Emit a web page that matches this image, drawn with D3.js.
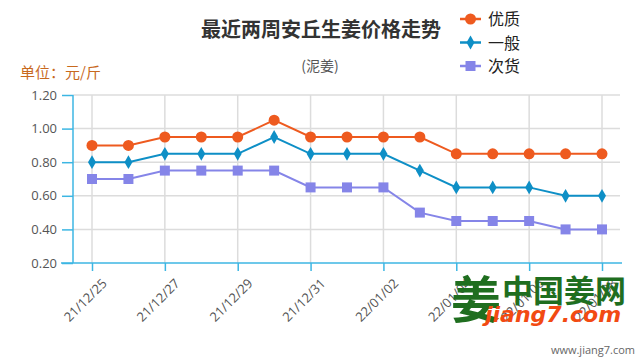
<!DOCTYPE html>
<html><head><meta charset="utf-8">
<script src="https://cdn.jsdelivr.net/npm/d3@7"></script>
<style>html,body{margin:0;padding:0;background:#fff;}svg{display:block;}</style>
</head><body><svg id="c" width="640" height="360"></svg>
<script>
const dates = ["21/12/25","21/12/26","21/12/27","21/12/28","21/12/29","21/12/30","21/12/31","22/01/01","22/01/02","22/01/03","22/01/04","22/01/05","22/01/06","22/01/07","22/01/08"];
const tickLabels = ["21/12/25","21/12/27","21/12/29","21/12/31","22/01/02","22/01/04","22/01/06","22/01/08"];
const yTicks = [0.2,0.4,0.6,0.8,1.0,1.2];
const youzhi = [0.90,0.90,0.95,0.95,0.95,1.05,0.95,0.95,0.95,0.95,0.85,0.85,0.85,0.85,0.85];
const yiban  = [0.80,0.80,0.85,0.85,0.85,0.95,0.85,0.85,0.85,0.75,0.65,0.65,0.65,0.60,0.60];
const cihuo  = [0.70,0.70,0.75,0.75,0.75,0.75,0.65,0.65,0.65,0.50,0.45,0.45,0.45,0.40,0.40];
const seriesNames = ["优质","一般","次货"];
const seriesColors = ["#ee5a1f","#0e8fc6","#8585e8"];
const seriesData = [youzhi, yiban, cihuo];
const symbols = [d3.symbolCircle, d3.symbolDiamond, d3.symbolSquare];
const symSizes = [95, 55, 100];

const svg = d3.select("#c");
const font = "'Noto Sans CJK SC','Noto Sans',sans-serif";
const x = d3.scalePoint().domain(dates).range([92, 602]);
const y = d3.scaleLinear().domain([0.2, 1.2]).range([263, 95]);
const axisColor = "#3cb6e3";

// grid
svg.append("g").selectAll("line").data(yTicks.slice(1)).join("line")
  .attr("x1", 73).attr("x2", 620).attr("y1", d => y(d)).attr("y2", d => y(d))
  .attr("stroke", "#dcdcdc").attr("stroke-width", 1.5);
svg.append("g").selectAll("line").data(tickLabels).join("line")
  .attr("x1", d => x(d)).attr("x2", d => x(d)).attr("y1", 95).attr("y2", 263)
  .attr("stroke", "#dcdcdc").attr("stroke-width", 1.5);

// y axis
const yAxis = svg.append("g").attr("transform", "translate(73,0)")
  .call(d3.axisLeft(y).tickValues(yTicks).tickFormat(d3.format(".2f")).tickSize(11).tickPadding(5));
yAxis.select(".domain").attr("stroke", axisColor).attr("stroke-width", 1.5).attr("d", "M0,95V263");
yAxis.selectAll(".tick line").attr("stroke", axisColor).attr("stroke-width", 1.5);
yAxis.selectAll(".tick text").attr("fill", "#555").style("font-family", "'Open Sans',sans-serif").style("font-size", "13px");

// x axis
const xAxis = svg.append("g").attr("transform", "translate(0,263)")
  .call(d3.axisBottom(x).tickValues(tickLabels).tickSize(8).tickPadding(4));
xAxis.select(".domain").attr("stroke", axisColor).attr("stroke-width", 1.5).attr("d", "M61,0H622");
xAxis.selectAll(".tick line").attr("stroke", axisColor).attr("stroke-width", 1.5);
xAxis.selectAll(".tick text").attr("fill", "#555").style("font-family", "'Open Sans',sans-serif").style("font-size", "13px")
  .attr("text-anchor", "end").attr("dy", "0.3em").attr("transform", "translate(4,10) rotate(-45)");

// lines + markers
const line = d3.line().x((d, i) => x(dates[i])).y(d => y(d));
seriesData.forEach((s, k) => {
  svg.append("path").datum(s).attr("d", line).attr("fill", "none")
    .attr("stroke", seriesColors[k]).attr("stroke-width", 2);
  svg.append("g").selectAll("path").data(s).join("path")
    .attr("d", d3.symbol().type(symbols[k]).size(symSizes[k]))
    .attr("transform", (d, i) => `translate(${x(dates[i])},${y(d)})`)
    .attr("fill", seriesColors[k]);
});

// titles
svg.append("text").attr("x", 321).attr("y", 37).attr("text-anchor", "middle")
  .style("font-family", font).style("font-size", "20px").style("font-weight", "bold").attr("fill", "#333")
  .text("最近两周安丘生姜价格走势");
svg.append("text").attr("x", 320).attr("y", 71).attr("text-anchor", "middle")
  .style("font-family", font).style("font-size", "14px").attr("fill", "#555").text("(泥姜)");
svg.append("text").attr("x", 20).attr("y", 78)
  .style("font-family", font).style("font-size", "15px").attr("fill", "#c8691e").text("单位：元/斤");

// legend
seriesNames.forEach((n, k) => {
  const ly = 19 + k * 23.5;
  svg.append("line").attr("x1", 460).attr("x2", 481).attr("y1", ly).attr("y2", ly)
    .attr("stroke", seriesColors[k]).attr("stroke-width", 2.5);
  svg.append("path").attr("d", d3.symbol().type(symbols[k]).size(symSizes[k])())
    .attr("transform", `translate(470.5,${ly})`).attr("fill", seriesColors[k]);
  svg.append("text").attr("x", 488).attr("y", ly + 6)
    .style("font-family", font).style("font-size", "16px").attr("fill", "#222").text(n);
});

// watermark logo
svg.append("text").attr("x", 451).attr("y", 318)
  .style("font-family", font).style("font-size", "50px").style("font-weight", "bold").attr("fill", "#1f6e1f").text("姜");
svg.append("text").attr("x", 502).attr("y", 302)
  .style("font-family", font).style("font-size", "31px").style("font-weight", "bold").attr("fill", "#1f6e1f").text("中国姜网");
svg.append("text").attr("x", 485).attr("y", 322)
  .style("font-family", "'DejaVu Sans',sans-serif").style("font-size", "22px").style("font-weight", "bold").style("font-style", "italic").attr("fill", "#f24a12").text("jiang7.com");
svg.append("text").attr("x", 635).attr("y", 354).attr("text-anchor", "end")
  .style("font-family", "'Open Sans',sans-serif").style("font-size", "11px").attr("fill", "#666").text("www.jiang7.com");
</script></body></html>
